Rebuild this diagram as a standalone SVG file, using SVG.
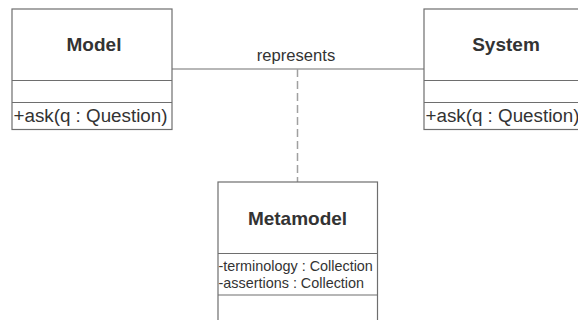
<svg xmlns="http://www.w3.org/2000/svg" width="578" height="320" viewBox="0 0 578 320">
<style>
.box{fill:#fff;stroke:#6e6e6e;stroke-width:1.2}
.div{stroke:#6e6e6e;stroke-width:1.2;fill:none}
.title{font-family:"Liberation Sans",Arial,sans-serif;font-weight:bold;font-size:19px;fill:#333;text-anchor:middle}
.op{font-family:"Liberation Sans",Arial,sans-serif;font-size:18.8px;fill:#333}
.attr{font-family:"Liberation Sans",Arial,sans-serif;font-size:14.4px;fill:#333}
.lbl{font-family:"Liberation Sans",Arial,sans-serif;font-size:16.6px;fill:#333;text-anchor:middle}
.assoc{stroke:#707070;stroke-width:1.2;fill:none}
.dash{stroke:#a0a0a0;stroke-width:1.5;fill:none;stroke-dasharray:8,4}
</style>
<rect width="578" height="320" fill="#fff"/>
<g id="connectors">
<line class="assoc" x1="172" y1="69" x2="424" y2="69"/>
<text class="lbl" x="296" y="61">represents</text>
<line class="dash" x1="297.5" y1="69" x2="297.5" y2="182"/>
</g>
<g id="Model">
<rect class="box" x="12" y="9" width="160" height="120.5"/>
<line class="div" x1="12" y1="80.5" x2="172" y2="80.5"/>
<line class="div" x1="12" y1="102.5" x2="172" y2="102.5"/>
<text class="title" x="94" y="51">Model</text>
<text class="op" x="13.5" y="121.5">+ask(q : Question)</text>
</g>
<g id="System">
<rect class="box" x="424" y="9" width="166" height="120.5"/>
<line class="div" x1="424" y1="80.5" x2="590" y2="80.5"/>
<line class="div" x1="424" y1="102.5" x2="590" y2="102.5"/>
<text class="title" x="506" y="51">System</text>
<text class="op" x="425.5" y="121.5">+ask(q : Question)</text>
</g>
<g id="Metamodel">
<rect class="box" x="218" y="182" width="159.5" height="150"/>
<line class="div" x1="218" y1="253.5" x2="377.5" y2="253.5"/>
<line class="div" x1="218" y1="295" x2="377.5" y2="295"/>
<text class="title" x="297.5" y="224.5">Metamodel</text>
<text class="attr" x="218.5" y="270.5">-terminology : Collection</text>
<text class="attr" x="218.5" y="287.5">-assertions : Collection</text>
</g>
</svg>
